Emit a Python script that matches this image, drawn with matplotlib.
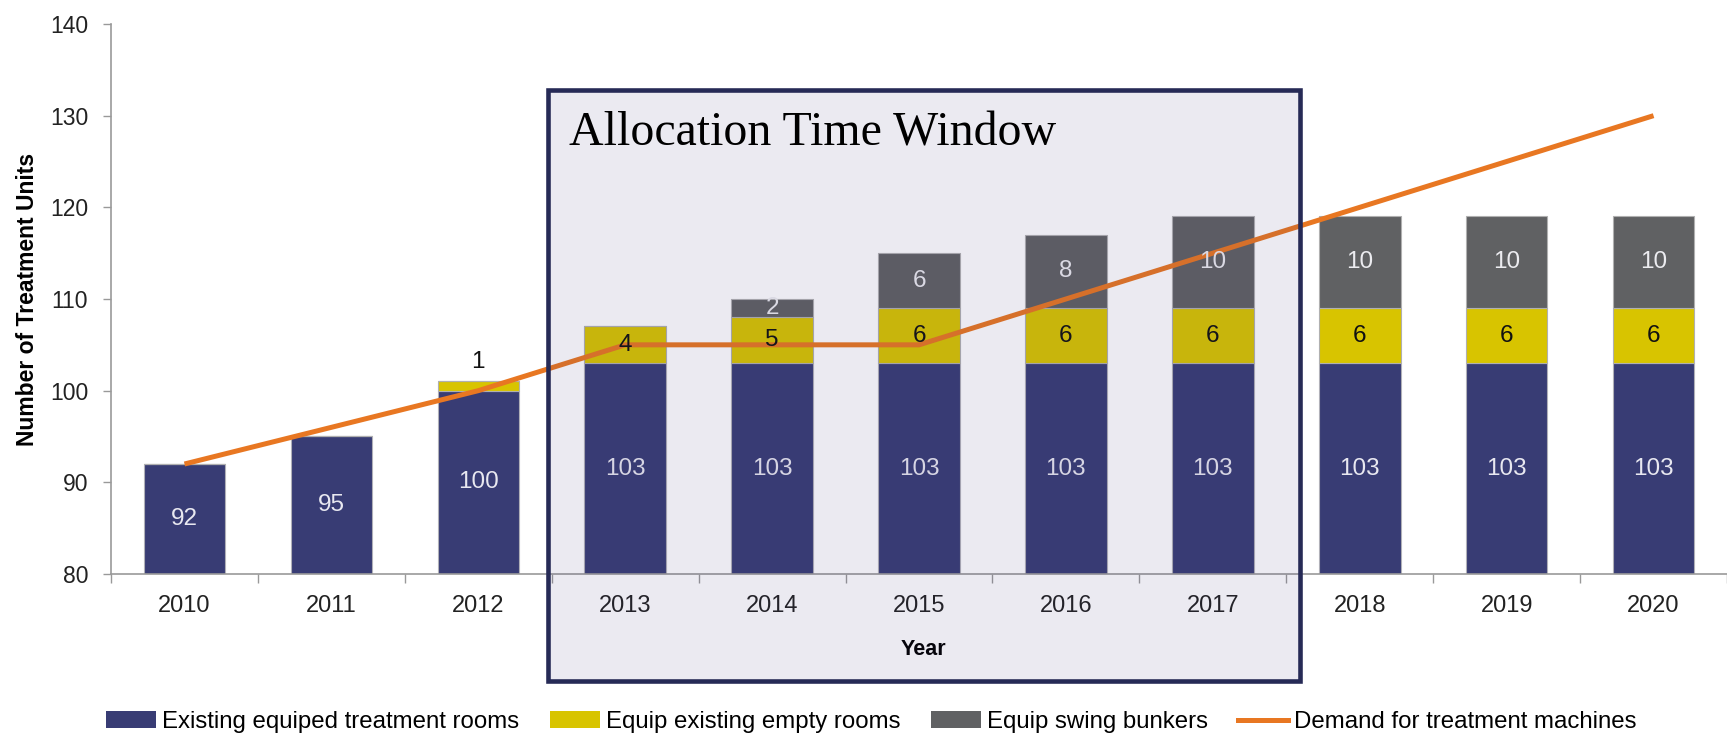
import numpy as np
import matplotlib
matplotlib.use('Agg')
import matplotlib.pyplot as plt
from matplotlib.patches import Rectangle, Patch
from matplotlib.lines import Line2D
from matplotlib.ticker import FixedLocator

plt.rcParams['font.family'] = ['Liberation Sans', 'DejaVu Sans']

years = ['2010', '2011', '2012', '2013', '2014', '2015', '2016', '2017', '2018', '2019', '2020']
existing = [92, 95, 100, 103, 103, 103, 103, 103, 103, 103, 103]
empty_rooms = [0, 0, 1, 4, 5, 6, 6, 6, 6, 6, 6]
swing = [0, 0, 0, 0, 2, 6, 8, 10, 10, 10, 10]
demand = [92, 96, 100, 105, 105, 105, 110, 115, 120, 125, 130]

c_navy = '#383c74'
c_yellow = '#d8c400'
c_gray = '#606163'
c_orange = '#e87722'

fig = plt.figure(figsize=(17.27, 7.34), dpi=100)
ax = fig.add_axes([0.0643, 0.2180, 0.9357, 0.7493])
ax.set_facecolor('none')

x = np.arange(len(years))
w = 0.555
base = 80
ex = np.array(existing)
em = np.array(empty_rooms)
sw = np.array(swing)

ax.bar(x, ex - base, w, bottom=base, color=c_navy, edgecolor='#b0b0b8', lw=0.8, zorder=2)
ax.bar(x, em, w, bottom=ex, color=c_yellow, edgecolor='#b0b0b0', lw=0.8, zorder=2)
ax.bar(x, sw, w, bottom=ex + em, color=c_gray, edgecolor='#b0b0b0', lw=0.8, zorder=2)
ax.plot(x, demand, color=c_orange, lw=3.6, solid_capstyle='butt', zorder=3)

fs = 17.5
for i in range(len(years)):
    ax.text(x[i], (base + ex[i]) / 2, str(ex[i]), ha='center', va='center',
            fontsize=fs, color='#e8e8f0', zorder=4)
    if em[i] > 0:
        if em[i] < 2:
            # too small to hold its label, put it on top
            ax.annotate(str(em[i]), (x[i], ex[i] + em[i]), xytext=(0, 6), textcoords='offset points',
                        ha='center', va='bottom', fontsize=fs, color='#111111', zorder=4)
        else:
            ax.text(x[i], ex[i] + em[i] / 2, str(em[i]), ha='center', va='center',
                    fontsize=fs, color='#111111', zorder=4)
    if sw[i] > 0:
        ax.text(x[i], ex[i] + em[i] + sw[i] / 2, str(sw[i]), ha='center', va='center',
                fontsize=fs, color='#ececf0', zorder=4)

ax.set_xlim(-0.5, 10.5)
ax.set_ylim(80, 140)
ax.set_yticks(np.arange(80, 141, 10))
ax.set_xticks(x)
ax.set_xticklabels(years)
ax.xaxis.set_minor_locator(FixedLocator(np.arange(-0.5, 11, 1)))
ax.tick_params(axis='x', which='major', length=0, pad=15, labelsize=17, labelcolor='#222222')
ax.tick_params(axis='x', which='minor', length=6.5, width=1, color='#999999', direction='out')
ax.tick_params(axis='y', length=5.5, width=1, color='#999999', pad=11, labelsize=16.5, labelcolor='#222222')

for s in ['top', 'right']:
    ax.spines[s].set_visible(False)
for s in ['left', 'bottom']:
    ax.spines[s].set_color('#999999')
    ax.spines[s].set_linewidth(1.2)

ax.set_ylabel('Number of Treatment Units', fontsize=16.5, fontweight='bold')
ax.yaxis.set_label_coords(-0.0445, 0.5)
ax.set_xlabel('Year', fontsize=15.5, fontweight='bold')
ax.xaxis.set_label_coords(0.5025, -0.118)

# allocation time window box, drawn over the bars
box = Rectangle((0.3173, 0.0722), 0.7528 - 0.3173, 0.8774 - 0.0722, transform=fig.transFigure,
                facecolor=(60 / 255, 51 / 255, 118 / 255, 0.1), edgecolor='#262a56', lw=3.3, zorder=5)
fig.patches.append(box)
fig.text(0.3292, 0.8015, 'Allocation Time Window', fontsize=34.5, family='Liberation Serif',
         ha='left', va='baseline', color='black', zorder=6)

handles = [Patch(facecolor=c_navy), Patch(facecolor=c_yellow), Patch(facecolor=c_gray),
           Line2D([0], [0], color=c_orange, lw=3.6)]
labels = ['Existing equiped treatment rooms', 'Equip existing empty rooms',
          'Equip swing bunkers', 'Demand for treatment machines']
fig.legend(handles, labels, loc='center', bbox_to_anchor=(0.5046, 0.0163), ncol=4, frameon=False,
           fontsize=17.3, handlelength=2.1, handletextpad=0.25, columnspacing=1.25, borderaxespad=0,
           borderpad=0)

fig.savefig('out.png', dpi=100)
